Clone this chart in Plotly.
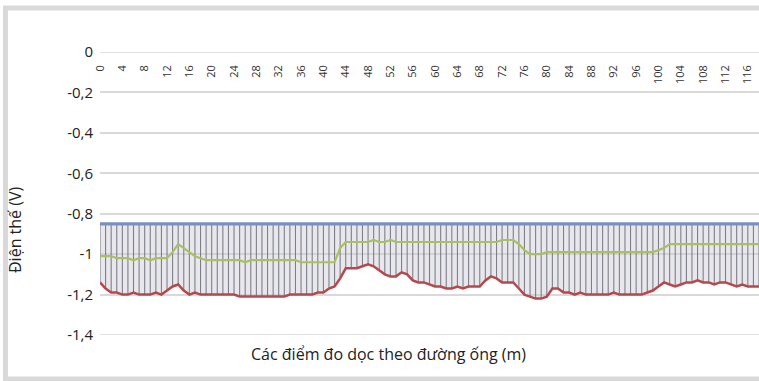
import plotly.graph_objects as go

# Measuring points along the pipeline (m)
positions = list(range(0, 119))

# Blue series: protection criterion (V)
criterion = [-0.85] * len(positions)

# Green series (V)
green = [
    -1.01, -1.01, -1.01, -1.02, -1.02, -1.02, -1.03, -1.02, -1.02, -1.03,
    -1.02, -1.02, -1.02, -0.99, -0.95, -0.97, -0.99, -1.01, -1.02, -1.03,
    -1.03, -1.03, -1.03, -1.03, -1.03, -1.03, -1.04, -1.03, -1.03, -1.03,
    -1.03, -1.03, -1.03, -1.03, -1.03, -1.03, -1.04, -1.04, -1.04, -1.04,
    -1.04, -1.04, -1.04, -0.97, -0.94, -0.94, -0.94, -0.94, -0.94, -0.93,
    -0.94, -0.94, -0.93, -0.94, -0.94, -0.94, -0.94, -0.94, -0.94, -0.94,
    -0.94, -0.94, -0.94, -0.94, -0.94, -0.94, -0.94, -0.94, -0.94, -0.94,
    -0.94, -0.94, -0.93, -0.93, -0.93, -0.95, -0.98, -1.00, -1.00, -1.00,
    -0.99, -0.99, -0.99, -0.99, -0.99, -0.99, -0.99, -0.99, -0.99, -0.99,
    -0.99, -0.99, -0.99, -0.99, -0.99, -0.99, -0.99, -0.99, -0.99, -0.99,
    -0.98, -0.97, -0.95, -0.95, -0.95, -0.95, -0.95, -0.95, -0.95, -0.95,
    -0.95, -0.95, -0.95, -0.95, -0.95, -0.95, -0.95, -0.95, -0.95,
]

# Red series (V)
red = [
    -1.14, -1.17, -1.19, -1.19, -1.20, -1.20, -1.19, -1.20, -1.20, -1.20,
    -1.19, -1.20, -1.18, -1.16, -1.15, -1.18, -1.20, -1.19, -1.20, -1.20,
    -1.20, -1.20, -1.20, -1.20, -1.20, -1.21, -1.21, -1.21, -1.21, -1.21,
    -1.21, -1.21, -1.21, -1.21, -1.20, -1.20, -1.20, -1.20, -1.20, -1.19,
    -1.19, -1.17, -1.16, -1.12, -1.07, -1.07, -1.07, -1.06, -1.05, -1.06,
    -1.08, -1.10, -1.11, -1.11, -1.09, -1.10, -1.13, -1.14, -1.14, -1.15,
    -1.16, -1.16, -1.17, -1.17, -1.16, -1.17, -1.16, -1.16, -1.16, -1.13,
    -1.11, -1.12, -1.14, -1.14, -1.14, -1.17, -1.20, -1.21, -1.22, -1.22,
    -1.21, -1.17, -1.17, -1.19, -1.19, -1.20, -1.19, -1.20, -1.20, -1.20,
    -1.20, -1.20, -1.19, -1.20, -1.20, -1.20, -1.20, -1.20, -1.19, -1.18,
    -1.16, -1.14, -1.15, -1.16, -1.15, -1.14, -1.14, -1.13, -1.14, -1.14,
    -1.15, -1.14, -1.14, -1.15, -1.16, -1.15, -1.16, -1.16, -1.16,
]

y_ticks = [0, -0.2, -0.4, -0.6, -0.8, -1.0, -1.2, -1.4]
y_tick_text = ["0", "-0,2", "-0,4", "-0,6", "-0,8", "-1", "-1,2", "-1,4"]
x_ticks = list(range(0, 117, 4))

# high-low lines between criterion and red series
hl_x, hl_y = [], []
for p, hi, lo in zip(positions, criterion, red):
    hl_x += [p, p, None]
    hl_y += [hi, lo, None]

fig = go.Figure()
# light shading between the criterion line and the red series
fig.add_trace(go.Scatter(x=positions, y=criterion, mode="lines",
                         line=dict(width=0), hoverinfo="skip", showlegend=False))
fig.add_trace(go.Scatter(x=positions, y=red, mode="lines", fill="tonexty",
                         fillcolor="rgba(205,205,212,0.45)",
                         line=dict(width=0), hoverinfo="skip", showlegend=False))
fig.add_trace(go.Scatter(x=hl_x, y=hl_y, mode="lines",
                         line=dict(color="rgba(100,100,115,0.8)", width=1.1),
                         hoverinfo="skip", showlegend=False))
fig.add_trace(go.Scatter(x=positions, y=criterion, mode="lines",
                         line=dict(color="#7a8fbf", width=3.2), showlegend=False))
fig.add_trace(go.Scatter(x=positions, y=green, mode="lines",
                         line=dict(color="#a8c060", width=2.2), showlegend=False))
fig.add_trace(go.Scatter(x=positions, y=red, mode="lines",
                         line=dict(color="#b8474c", width=2.5), showlegend=False))

fig.update_layout(
    width=759, height=381,
    margin=dict(l=100, r=0, t=52, b=46),
    paper_bgcolor="white", plot_bgcolor="white",
    font=dict(family="Open Sans, Noto Sans, sans-serif", color="#222222"),
    xaxis=dict(
        side="bottom", anchor="free", position=(335 - 62) / 283,
        range=[0, 118], tickmode="array", tickvals=x_ticks,
        ticktext=[str(v) for v in x_ticks], tickangle=-90,
        showgrid=False, zeroline=False, automargin=False,
        showline=False, ticks="", tickfont=dict(size=11, color="#333333"),
    ),
    yaxis=dict(
        range=[-1.4, 0], tickmode="array", tickvals=y_ticks,
        ticktext=y_tick_text, showgrid=True, gridcolor="#d9d9d9", gridwidth=1.5,
        zeroline=False, showline=False, ticks="", automargin=False,
        tickfont=dict(size=15, color="#222222"), ticklabelstandoff=6,
    ),
    shapes=[
        dict(type="rect", xref="paper", yref="paper",
             x0=-0.1434, x1=1.02, y0=-0.1555, y1=1.1555,
             line=dict(color="#d9d9d9", width=5), fillcolor="rgba(0,0,0,0)",
             layer="below"),
        dict(type="line", xref="paper", yref="y", x0=0, x1=1, y0=0, y1=0,
             line=dict(color="#d9d9d9", width=1.5), layer="below"),
        dict(type="line", xref="paper", yref="y", x0=0, x1=1, y0=-1.4, y1=-1.4,
             line=dict(color="#d9d9d9", width=1.5), layer="below"),
    ],
    annotations=[
        dict(text="Điện thế (V)", xref="paper", yref="paper",
             x=(15 - 100) / 659, y=(335 - 230) / 283, showarrow=False,
             textangle=-90, font=dict(size=16, color="#222222"),
             xanchor="center", yanchor="middle"),
        dict(text="Các điểm đo dọc theo đường ống (m)", xref="paper", yref="paper",
             x=(388 - 100) / 659, y=(335 - 354) / 283, showarrow=False,
             font=dict(size=16, color="#222222"),
             xanchor="center", yanchor="middle"),
    ],
)

fig.write_html("out.html",
               config={"displayModeBar": False},
               post_script="document.body.style.margin='0px';"
                           "document.body.style.overflow='hidden';")
